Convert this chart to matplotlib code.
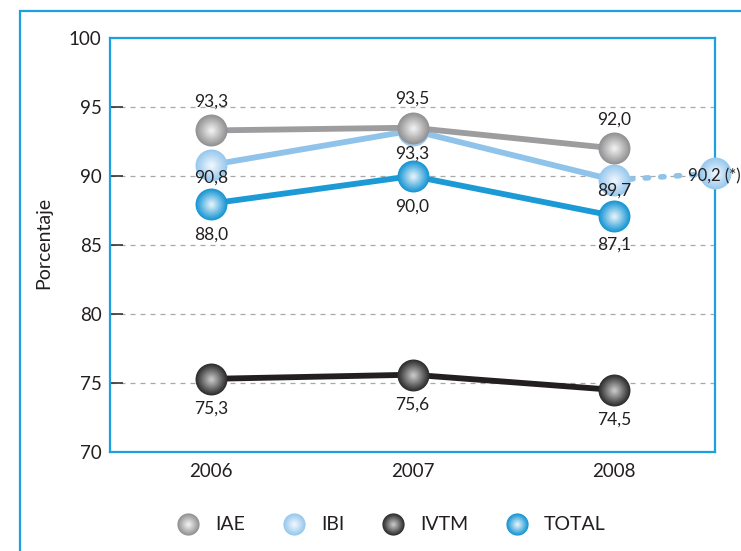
import matplotlib
matplotlib.use("Agg")
import matplotlib.pyplot as plt
import numpy as np
from matplotlib.patches import Rectangle
from matplotlib.legend_handler import HandlerBase
from matplotlib.lines import Line2D
from matplotlib.colors import to_rgb

# ---------------- data ----------------
years = ["2006", "2007", "2008"]
iae = [93.3, 93.5, 92.0]
ibi = [90.8, 93.3, 89.7]
ivtm = [75.3, 75.6, 74.5]
total = [88.0, 90.0, 87.1]
ibi_extra = 90.2
ibi_extra_label = "90,2 (*)"
series_names = ["IAE", "IBI", "IVTM", "TOTAL"]
yticks = [70, 75, 80, 85, 90, 95, 100]

# ---------------- style ----------------
plt.rcParams['font.family'] = ['Lato', 'DejaVu Sans']
DPI = 100
W, H = 741, 551
FRAME = "#1BA1E2"
TXT = "#231F20"

styles = {
    "IAE":   dict(line="#9D9D9F", edge="#929294", center="#F6F6F6", lw=4.2, dy=[29, 29, 29]),
    "IBI":   dict(line="#8FC3EA", edge="#98C9EE", center="#F4F9FE", lw=4.2, dy=[-13, -23, -10]),
    "IVTM":  dict(line="#231F20", edge="#2E2E2E", center="#D0D0D0", lw=4.2, dy=[-30, -30, -30]),
    "TOTAL": dict(line="#1B9AD6", edge="#1896D4", center="#EEF7FD", lw=4.2, dy=[-31, -31, -29]),
}
data = {"IAE": iae, "IBI": ibi, "IVTM": ivtm, "TOTAL": total}


def sphere_layers(edge, center, ms, n=16):
    e = np.array(to_rgb(edge)); c = np.array(to_rgb(center))
    out = []
    for k in range(n):
        f = k / n
        size = ms * (1 - f) ** 0.9
        t = f ** 1.1
        col = e * (1 - t) + c * t
        out.append((size, tuple(col)))
    return out


def draw_spheres(ax, x, y, edge, center, ms, z, clip=True):
    for i, (s, col) in enumerate(sphere_layers(edge, center, ms)):
        ax.plot(x, y, linestyle="none", marker="o", ms=s, color=col,
                mec="none", zorder=z + i * 0.01, clip_on=clip)


fig = plt.figure(figsize=(W / DPI, H / DPI), dpi=DPI)

# outer frame (extends beyond the right/bottom edges)
fig.patches.append(Rectangle((20 / W, -0.2), 1.5, (H - 11) / H + 0.2,
                             transform=fig.transFigure, fill=False,
                             edgecolor=FRAME, lw=1.6, zorder=0))

ax = fig.add_axes([110 / W, 1 - 452 / H, (715 - 110) / W, (452 - 38) / H])
x = np.arange(len(years))
ax.set_xlim(-0.5, len(years) - 0.5)
ax.set_ylim(yticks[0], yticks[-1])

for sp in ax.spines.values():
    sp.set_color(FRAME)
    sp.set_linewidth(1.6)

ax.set_yticks(yticks)
ax.set_xticks(x)
ax.set_xticklabels(years)
ax.tick_params(axis="y", direction="in", length=9, width=1.2, color="#333333",
               labelsize=13.5, labelcolor=TXT, pad=6)
ax.tick_params(axis="x", length=0, labelsize=13.5, labelcolor=TXT, pad=8)
for t in ax.yaxis.get_major_ticks():
    if t.get_loc() in (yticks[0], yticks[-1]):
        t.tick1line.set_visible(False)

for g in yticks[1:-1]:
    ax.axhline(g, color="#A8A8A8", lw=0.9, ls=(0, (4, 4)), zorder=1)

ax.set_ylabel("Porcentaje", fontsize=14, color=TXT)
ax.yaxis.set_label_coords((52 - 110) / (715 - 110), (452 - 243) / (452 - 38))

MS = 23
order = ["IVTM", "TOTAL", "IBI", "IAE"]
zbase = {"IVTM": 3, "TOTAL": 4, "IBI": 5, "IAE": 6}

# dotted extension of IBI
ax.plot([x[-1], x[-1] + 0.5], [ibi[-1], ibi_extra], color=styles["IBI"]["line"],
        lw=4, ls=(0, (0.6, 2.2)), dash_capstyle="round", zorder=4.5, clip_on=False)

for name in order:
    st = styles[name]
    vals = data[name]
    z = zbase[name]
    ax.plot(x, vals, color=st["line"], lw=st["lw"], zorder=z, solid_capstyle="round")
    draw_spheres(ax, x, vals, st["edge"], st["center"], MS, z + 0.1)
    for xi, v, dy in zip(x, vals, st["dy"]):
        ax.annotate(f"{v:.1f}".replace(".", ","), (xi, v), xytext=(0, dy * 0.72),
                    textcoords="offset points", ha="center", va="center",
                    fontsize=12.5, color=TXT, zorder=20)

# extra IBI point on the right spine
draw_spheres(ax, [x[-1] + 0.5], [ibi_extra], styles["IBI"]["edge"],
             styles["IBI"]["center"], MS, 8, clip=False)
ax.annotate(ibi_extra_label, (x[-1] + 0.5, ibi_extra), xytext=(-27 * 0.72, -2),
            textcoords="offset points", ha="left", va="center", fontsize=12,
            color=TXT, zorder=21, annotation_clip=False)


# legend with sphere handles
class SphereHandler(HandlerBase):
    def __init__(self, edge, center, ms):
        super().__init__()
        self.edge, self.center, self.ms = edge, center, ms

    def create_artists(self, legend, orig_handle, xdescent, ydescent, width,
                       height, fontsize, trans):
        arts = []
        cx = width / 2 - xdescent
        cy = height / 2 - ydescent
        for s, col in sphere_layers(self.edge, self.center, self.ms):
            l = Line2D([cx], [cy], linestyle="none", marker="o", ms=s, color=col,
                       mec="none", transform=trans)
            arts.append(l)
        return arts


handles = [Line2D([], [], label=n) for n in series_names]
hmap = {h: SphereHandler(styles[n]["edge"], styles[n]["center"], 16)
        for h, n in zip(handles, series_names)}
leg = fig.legend(handles=handles, handler_map=hmap, loc="center",
                 bbox_to_anchor=(391 / W, 1 - 525 / H), ncol=4, frameon=False,
                 fontsize=14, handlelength=1.2, handletextpad=0.8,
                 columnspacing=1.9, labelcolor=TXT)

fig.savefig("out.png", dpi=DPI)
